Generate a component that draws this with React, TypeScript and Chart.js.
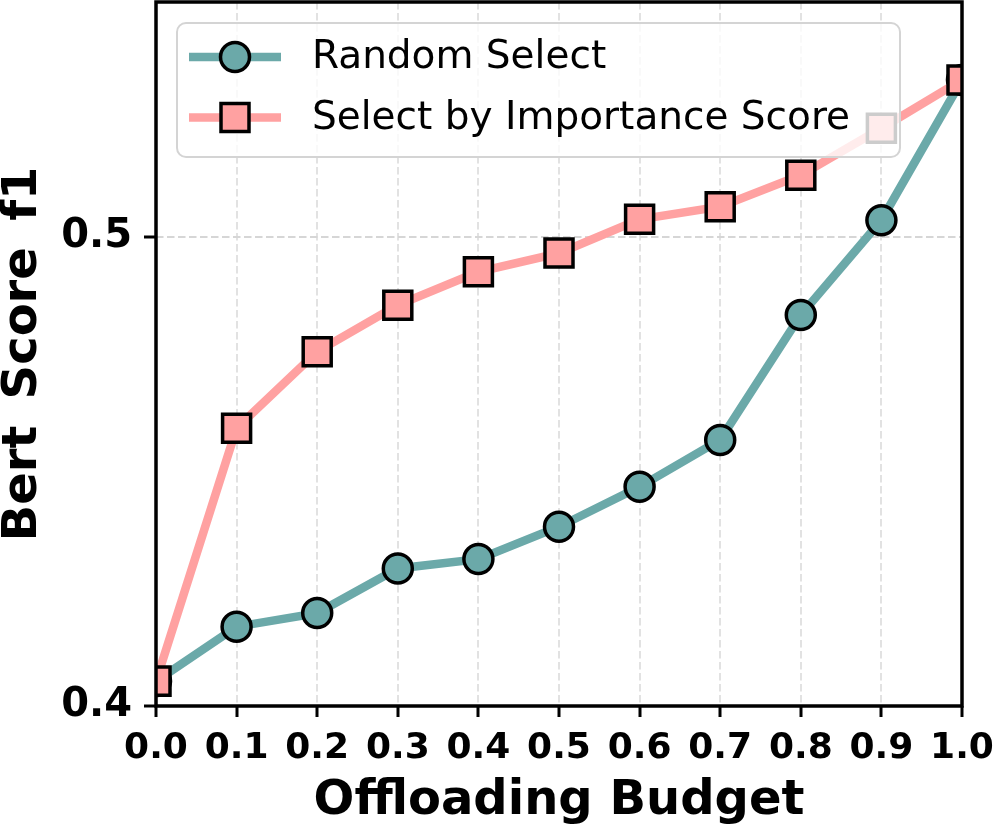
import React, { useEffect, useRef } from "react";
import { Chart, registerables } from "chart.js";

Chart.register(...registerables);

const budgets = [0.0, 0.1, 0.2, 0.3, 0.4, 0.5, 0.6, 0.7, 0.8, 0.9, 1.0];
const randomSelect = [0.4053, 0.4169, 0.4198, 0.4293, 0.4313, 0.4382, 0.4467, 0.4567, 0.4833, 0.5035, 0.5334];
const importanceSelect = [0.4053, 0.4592, 0.4755, 0.4854, 0.4925, 0.4965, 0.5037, 0.5064, 0.5131, 0.5231, 0.5334];
const seriesLabels = ["Random Select", "Select by Importance Score"];
const xTicks = [0.0, 0.1, 0.2, 0.3, 0.4, 0.5, 0.6, 0.7, 0.8, 0.9, 1.0];
const xTickLabels = ["0.0", "0.1", "0.2", "0.3", "0.4", "0.5", "0.6", "0.7", "0.8", "0.9", "1.0"];
const yTicks = [0.4, 0.5];
const yTickLabels = ["0.4", "0.5"];

const TEAL = "#6ba9a9";
const PINK = "#ffa1a1";
const FONT = "'DejaVu Sans', sans-serif";

const framePlugin = {
  id: "frame",
  afterDatasetsDraw(chart: any) {
    const { ctx, chartArea } = chart;
    ctx.save();
    ctx.strokeStyle = "#000";
    ctx.lineWidth = 3.5;
    ctx.strokeRect(chartArea.left, chartArea.top, chartArea.right - chartArea.left, chartArea.bottom - chartArea.top);
    ctx.restore();
  },
  afterDraw(chart: any) {
    const { ctx } = chart;
    const bx = 177, by = 23, bw = 723, bh = 134, r = 9;
    ctx.save();
    ctx.beginPath();
    ctx.moveTo(bx + r, by);
    ctx.lineTo(bx + bw - r, by);
    ctx.arcTo(bx + bw, by, bx + bw, by + r, r);
    ctx.lineTo(bx + bw, by + bh - r);
    ctx.arcTo(bx + bw, by + bh, bx + bw - r, by + bh, r);
    ctx.lineTo(bx + r, by + bh);
    ctx.arcTo(bx, by + bh, bx, by + bh - r, r);
    ctx.lineTo(bx, by + r);
    ctx.arcTo(bx, by, bx + r, by, r);
    ctx.closePath();
    ctx.fillStyle = "rgba(255,255,255,0.8)";
    ctx.fill();
    ctx.strokeStyle = "#d4d4d4";
    ctx.lineWidth = 2;
    ctx.stroke();

    const rows = [
      { y: 57, color: TEAL, shape: "circle", label: seriesLabels[0] },
      { y: 117.5, color: PINK, shape: "square", label: seriesLabels[1] },
    ];
    for (const row of rows) {
      ctx.beginPath();
      ctx.strokeStyle = row.color;
      ctx.lineWidth = 8.5;
      ctx.moveTo(189, row.y);
      ctx.lineTo(281, row.y);
      ctx.stroke();
      ctx.beginPath();
      if (row.shape === "circle") {
        ctx.arc(235, row.y, 14.5, 0, Math.PI * 2);
      } else {
        ctx.rect(235 - 14, row.y - 14, 28, 28);
      }
      ctx.fillStyle = row.color;
      ctx.fill();
      ctx.strokeStyle = "#000";
      ctx.lineWidth = 3.5;
      ctx.stroke();
      ctx.fillStyle = "#000";
      ctx.font = `39px ${FONT}`;
      ctx.textBaseline = "middle";
      ctx.textAlign = "left";
      ctx.fillText(row.label, 312, row.y + 1);
    }
    ctx.restore();
  },
};

export default function App() {
  const ref = useRef<HTMLCanvasElement | null>(null);
  useEffect(() => {
    if (!ref.current) return;
    const chart = new Chart(ref.current, {
      type: "line",
      data: {
        datasets: [
          {
            label: seriesLabels[0],
            data: budgets.map((x, i) => ({ x, y: randomSelect[i] })),
            borderColor: TEAL,
            backgroundColor: TEAL,
            borderWidth: 8.5,
            pointStyle: "circle",
            pointRadius: 14.5,
            pointBorderWidth: 3.5,
            pointBorderColor: "#000",
            pointBackgroundColor: TEAL,
            clip: 0,
            order: 1,
          },
          {
            label: seriesLabels[1],
            data: budgets.map((x, i) => ({ x, y: importanceSelect[i] })),
            borderColor: PINK,
            backgroundColor: PINK,
            borderWidth: 8.5,
            pointStyle: "rect",
            pointRadius: 19.8,
            pointBorderWidth: 3.5,
            pointBorderColor: "#000",
            pointBackgroundColor: PINK,
            clip: 0,
            order: 0,
          },
        ],
      },
      options: {
        responsive: false,
        animation: false,
        layout: { autoPadding: false, padding: { left: 0, top: 2, right: 35, bottom: 0 } },
        plugins: { legend: { display: false }, tooltip: { enabled: false } },
        scales: {
          x: {
            type: "linear",
            min: 0,
            max: 1,
            afterBuildTicks: (s: any) => {
              s.ticks = xTicks.map((v) => ({ value: v }));
            },
            afterFit: (s: any) => {
              s.height = 122;
              s.paddingLeft = 0;
              s.paddingRight = 0;
              s.paddingTop = 0;
              s.paddingBottom = 0;
            },
            ticks: {
              callback: (_v: any, i: number) => xTickLabels[i],
              font: { family: FONT, size: 36, weight: "bold" },
              color: "#000",
              padding: 10,
              maxRotation: 0,
              autoSkip: false,
            },
            grid: {
              color: "#e2e2e2",
              lineWidth: 2,
              drawTicks: true,
              tickLength: 11,
              tickWidth: 3,
              tickColor: "#000",
              tickBorderDash: [],
            },
            border: { display: false, dash: [7.5, 3.5] },
            title: {
              display: true,
              text: "Offloading Budget",
              font: { family: FONT, size: 48, weight: "bold", lineHeight: 1 },
              color: "#000",
              padding: { top: 0, bottom: 2 },
            },
          },
          y: {
            type: "linear",
            min: 0.4,
            max: 0.55,
            afterBuildTicks: (s: any) => {
              s.ticks = yTicks.map((v) => ({ value: v }));
            },
            afterFit: (s: any) => {
              s.width = 156;
              s.paddingLeft = 0;
              s.paddingRight = 0;
              s.paddingTop = 0;
              s.paddingBottom = 0;
            },
            ticks: {
              callback: (_v: any, i: number) => yTickLabels[i],
              font: { family: FONT, size: 40, weight: "bold" },
              color: "#000",
              padding: 12,
            },
            grid: {
              color: "#d6d6d6",
              lineWidth: 2,
              drawTicks: true,
              tickLength: 12,
              tickWidth: 3,
              tickColor: "#000",
              tickBorderDash: [],
            },
            border: { display: false, dash: [7.5, 3.5] },
            title: {
              display: true,
              text: "Bert \u2009Score \u2009f1",
              font: { family: FONT, size: 48, weight: "bold", lineHeight: 1 },
              color: "#000",
              padding: { top: 0, bottom: 0 },
            },
          },
        },
      },
      plugins: [framePlugin],
    } as any);
    return () => chart.destroy();
  }, []);
  return (
    <div style={{ position: "fixed", left: 0, top: 0, width: 997, height: 828, background: "#fff" }}>
      <canvas ref={ref} width={997} height={828} style={{ display: "block" }} />
    </div>
  );
}
